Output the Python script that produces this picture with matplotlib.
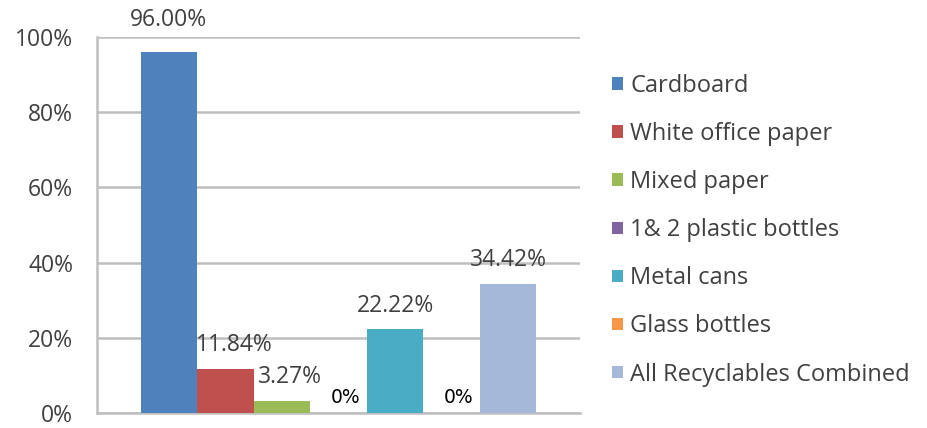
import matplotlib
matplotlib.use('Agg')
import matplotlib.pyplot as plt
import numpy as np

# data (percent recycled, per material)
MATERIALS = ["Cardboard", "White office paper", "Mixed paper", "1& 2 plastic bottles",
             "Metal cans", "Glass bottles", "All Recyclables Combined"]
VALUES = [96.00, 11.84, 3.27, 0.0, 22.22, 0.0, 34.42]
LABELS = ["96.00%", "11.84%", "3.27%", "0%", "22.22%", "0%", "34.42%"]
COLORS = ["#4F81BD", "#C0504D", "#9BBB59", "#8064A2", "#4BACC6", "#F79646", "#A5B8DA"]
YTICKS = [0, 20, 40, 60, 80, 100]

plt.rcParams['font.family'] = ['Open Sans', 'DejaVu Sans']

fig = plt.figure(figsize=(9.28, 4.28), dpi=100)
ax = fig.add_axes([0.1045, 0.035, 0.5205, 0.8785])

n = len(VALUES)
x = np.arange(n) - (n - 1) / 2
bars = ax.bar(x, VALUES, width=1.0, color=COLORS, label=MATERIALS, zorder=3)

# data labels, nudged like the excel "outside end" placement
for i, (b, v, lab) in enumerate(zip(bars, VALUES, LABELS)):
    cx = b.get_x() + b.get_width() / 2
    if v == 0:
        ax.text(cx + 0.12, 4.2, lab, ha='center', va='center', fontsize=13.5,
                color='black', family='DejaVu Sans', zorder=4)
    else:
        dx = 0.15 if i in (1, 2) else 0.0
        dy = 8.5 if i == 0 else 6.2
        ax.text(cx + dx, v + dy, lab, ha='center', va='center', fontsize=16.5,
                color='#404040', zorder=4, clip_on=False)

ax.set_xlim(-4.27, 4.27)
ax.set_ylim(0, 100)
ax.set_yticks(YTICKS)
ax.set_yticklabels([f"{t}%" for t in YTICKS], fontsize=16.5, color='#404040')
ax.set_xticks([])
ax.tick_params(axis='y', length=0, pad=17)

ax.grid(axis='y', color='#BFBFBF', linewidth=1.8, zorder=0)
for s in ['top', 'right']:
    ax.spines[s].set_visible(False)
for s in ['left', 'bottom']:
    ax.spines[s].set_color('#BFBFBF')
    ax.spines[s].set_linewidth(1.8)

leg = fig.legend(bars, MATERIALS, loc='center left', bbox_to_anchor=(0.637, 0.462),
                 frameon=False, fontsize=17, handlelength=0.45, handleheight=0.45,
                 handletextpad=0.3, labelspacing=1.02, labelcolor='#404040')

fig.savefig('out.png', dpi=100)
